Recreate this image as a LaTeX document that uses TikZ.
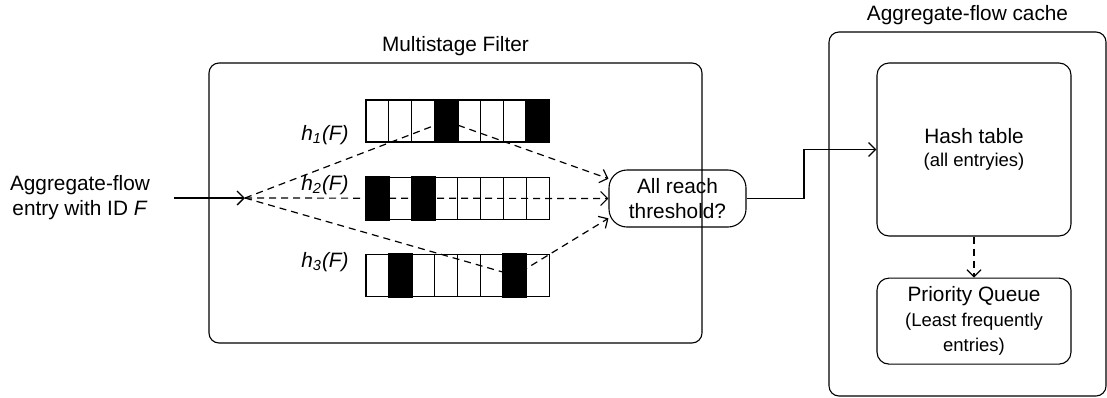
\documentclass[tikz,border=0pt]{standalone}
\usepackage{fontspec}
\setmainfont{Liberation Sans}
\usetikzlibrary{positioning, arrows.meta}
\newcommand{\bigtxt}{\fontsize{10.4}{12.5}\selectfont}
\newcommand{\smalltxt}{\fontsize{9.25}{12}\selectfont}
\tikzset{
    >={Straight Barb[length=3.5pt, width=7pt]}, % open arrow heads
    every node/.style={font=\bigtxt},
    frame/.style={draw, rounded corners=5pt, line width=0.55pt, inner sep=0pt},
    block/.style={draw, rounded corners=6pt, line width=0.55pt, align=center},
    cell/.style={draw, line width=0.55pt, minimum width=11.45pt, minimum height=21pt, inner sep=0pt},
    hashline/.style={dashed, dash pattern=on 3.5pt off 2.5pt, line width=0.6pt},
}

\begin{document}
\begin{tikzpicture}[x=0.5pt, y=-0.5pt]
    \useasboundingbox (0,0) rectangle (1107,397);

    % the two big frames
    \node[frame, minimum width=246.5pt, minimum height=140pt,
          label={above:Multistage Filter}] (filter) at (455.5,203) {};
    \node[frame, minimum width=138.5pt, minimum height=182pt,
          label={above:Aggregate-flow cache}] (cache) at (967.5,214) {};

    % input
    \node[align=center, inner xsep=12pt] (in) at (80,198) {Aggregate-flow\\entry with ID \textit{F}};
    \coordinate (hub) at (245,198);
    \draw[->, line width=0.65pt] (in.east) -- (hub);

    % counter arrays of the three stages
    \foreach \row/\ypos/\blk in {1/121/{4,8}, 2/198.5/{1,3}, 3/275.5/{2,7}} {
        \foreach \c in {1,...,8}
            \node[cell] (c\row-\c) at ({366+(\c-0.5)*22.9},\ypos) {};
        \foreach \c in \blk
            \path[draw, fill=black, line width=0.55pt] (c\row-\c.south west) rectangle (c\row-\c.north east);
    }
    \node (h1) at (325,135) {\textit{h\textsubscript{1}(F)}};
    \node (h2) at (325,185) {\textit{h\textsubscript{2}(F)}};
    \node (h3) at (325,262) {\textit{h\textsubscript{3}(F)}};

    % threshold check
    \node[block, rounded corners=9pt, minimum width=68.5pt, minimum height=28.5pt, inner sep=1pt]
        (thr) at (677.5,198.5) {All reach\\threshold?};

    \draw[hashline, ->] (hub) -- (c1-4.center) -- (thr.164);
    \draw[hashline, ->] (hub) -- (thr.west);
    \draw[hashline, ->] (hub) -- (c3-7.center) -- (thr.196);

    % cache
    \node[block, minimum width=97pt, minimum height=86.5pt] (hash) at (974,149.5)
        {Hash table\\[-1pt]{\smalltxt (all entryies)}};
    \node[block, minimum width=97pt, minimum height=43pt, below=20.5pt of hash, inner sep=1pt] (pq)
        {Priority Queue\\{\smalltxt (Least frequently}\\{\smalltxt entries)}};

    \coordinate (bend) at (804,198.5);
    \draw[->, line width=0.65pt] (thr.east) -- (bend) |- (hash.west);
    \draw[hashline, ->] (hash) -- (pq);
\end{tikzpicture}
\end{document}
